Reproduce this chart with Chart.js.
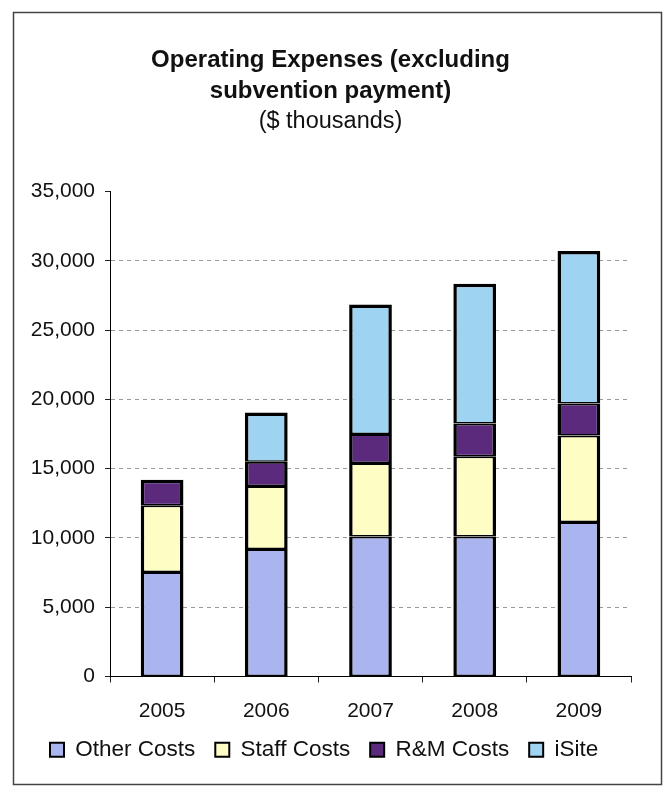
<!DOCTYPE html>
<html>
<head>
<meta charset="utf-8">
<script src="https://cdn.jsdelivr.net/npm/chart.js@4.4.1/dist/chart.umd.min.js"></script>
<style>
  html, body { margin: 0; padding: 0; background: #fff; }
  canvas { display: block; }
</style>
</head>
<body>
<canvas id="chart" width="668" height="787"></canvas>
<script>
const years      = ['2005', '2006', '2007', '2008', '2009'];
const otherCosts = [7550, 9200, 10100, 10100, 11150];
const staffCosts = [4800, 4550, 5300, 5800, 6250];
const rmCosts    = [1850, 1750, 2100, 2350, 2300];
const iSite      = [null, 3550, 9350, 10100, 11000];
const yTicks     = [0, 5000, 10000, 15000, 20000, 25000, 30000, 35000];

const FONT = "'Liberation Sans', Arial, sans-serif";
const INK  = '#111';

const series = [otherCosts, staffCosts, rmCosts, iSite];

// thicker top edge only on the highest segment of each stack
function segBorder(ctx) {
  if (ctx.type !== 'data') return 2;
  const j = ctx.dataIndex;
  let isTop = true;
  for (let k = ctx.datasetIndex + 1; k < series.length; k++) {
    if (series[k][j]) isTop = false;
  }
  return { left: 3.5, right: 3.5, top: isTop ? 3.5 : 2, bottom: 1.5 };
}

const framePlugin = {
  id: 'frame',
  beforeDraw(chart) {
    const c = chart.ctx;
    c.save();
    c.fillStyle = '#fff';
    c.fillRect(0, 0, chart.width, chart.height);
    c.strokeStyle = '#444';
    c.lineWidth = 1.5;
    c.strokeRect(13.5, 12.5, 648, 772);
    c.restore();
  }
};

function ds(label, data, color) {
  return {
    label, data,
    backgroundColor: color,
    borderColor: '#000',
    borderWidth: segBorder,
    borderSkipped: false,
    barPercentage: 0.41,
    categoryPercentage: 1.0,
  };
}

new Chart(document.getElementById('chart').getContext('2d'), {
  type: 'bar',
  data: {
    labels: years,
    datasets: [
      ds('Other Costs', otherCosts, '#aab4ee'),
      ds('Staff Costs', staffCosts, '#fdfdc4'),
      ds('R&M Costs',   rmCosts,    '#5b2a7c'),
      ds('iSite',       iSite,      '#9ed3f1'),
    ]
  },
  options: {
    responsive: false,
    animation: false,
    devicePixelRatio: 1,
    layout: { padding: { left: 30, right: 37, top: 0, bottom: 16 } },
    scales: {
      x: {
        stacked: true,
        afterFit: s => { s.height = 42; },
        border: { display: true, color: '#000', width: 1 },
        grid: { offset: true, drawOnChartArea: false, drawTicks: true, tickLength: 6, color: '#222' },
        ticks: { color: INK, padding: 16, font: { family: FONT, size: 21 } }
      },
      y: {
        stacked: true,
        min: 0, max: 35000,
        afterFit: s => { s.width = 80; },
        afterBuildTicks: s => { s.ticks = yTicks.map(v => ({ value: v })); },
        border: { display: true, color: '#000', width: 1, dash: [4, 4] },
        grid: {
          color: c => (c.tick && (c.tick.value === 0 || c.tick.value === 35000)) ? 'rgba(0,0,0,0)' : '#9a9a9a',
          tickColor: '#222',
          tickLength: 5,
          lineWidth: 1
        },
        ticks: {
          color: INK, padding: 10,
          font: { family: FONT, size: 21 },
          callback: v => v.toLocaleString('en-US')
        }
      }
    },
    plugins: {
      title: {
        display: true,
        text: ['Operating Expenses (excluding', 'subvention payment)'],
        color: INK,
        font: { family: FONT, size: 24, weight: 'bold', lineHeight: 31 / 24 },
        padding: { top: 44.5, bottom: 0 }
      },
      subtitle: {
        display: true,
        text: '($ thousands)',
        color: INK,
        font: { family: FONT, size: 23.5, weight: 'normal', lineHeight: 31 / 23.5 },
        padding: { top: 0, bottom: 54 }
      },
      legend: {
        position: 'bottom',
        align: 'start',
        labels: {
          color: INK,
          boxWidth: 14, boxHeight: 14, padding: 20,
          font: { family: FONT, size: 22.5 },
          generateLabels: chart =>
            Chart.defaults.plugins.legend.labels.generateLabels(chart).map(l => ({ ...l, lineWidth: 2, strokeStyle: '#000' }))
        }
      },
      tooltip: { enabled: false }
    }
  },
  plugins: [framePlugin]
});
</script>
</body>
</html>
